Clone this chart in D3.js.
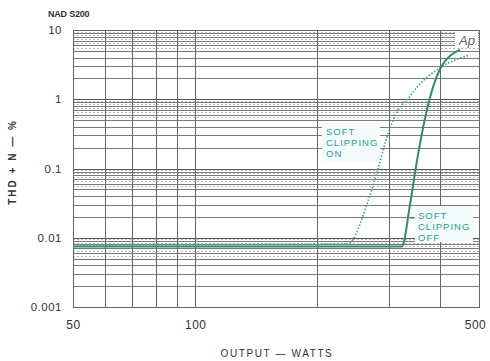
<!DOCTYPE html>
<html>
<head>
<meta charset="utf-8">
<script src="https://cdn.jsdelivr.net/npm/d3@7"></script>
<style>
  html, body { margin: 0; padding: 0; background: #fff; }
  svg { display: block; }
  text { font-family: "Liberation Sans", Arial, sans-serif; }
</style>
</head>
<body>
<svg id="chart" width="490" height="361"></svg>
<script>
// ---- data ----
const chartTitle = "NAD S200";
const xTickValues = [50, 100, 500];
const xTickLabels = ["50", "100", "500"];
const xGridValues = [50, 60, 70, 80, 90, 100, 200, 300, 400, 500];
const yTickValues = [0.001, 0.01, 0.1, 1, 10];
const yTickLabels = ["0.001", "0.01", "0.1", "1", "10"];
const yDecades = [0.001, 0.01, 0.1, 1];

// Soft clipping OFF (solid)
const offWatts = [50, 323, 338, 352, 372, 400, 449];
const offThd   = [0.0075, 0.0075, 0.0297, 0.133, 0.70, 2.65, 5.2];
// Soft clipping ON (dotted)
const onWatts = [50, 237, 267, 280, 299, 316, 332, 352, 400, 475];
const onThd   = [0.0079, 0.0081, 0.035, 0.086, 0.326, 0.70, 0.97, 1.5, 2.83, 4.35];

const xLabel = "OUTPUT — WATTS";
const yLabel = "THD + N — %";
const onLabel = ["SOFT", "CLIPPING", "ON"];
const offLabel = ["SOFT", "CLIPPING", "OFF"];

// ---- drawing ----
const svg = d3.select("#chart");
const L = 73, R = 479, T = 30, B = 307;
const x = d3.scaleLog().domain([50, 500]).range([L, R]);
const y = d3.scaleLog().domain([0.001, 10]).range([B, T]);

const grid = svg.append("g").attr("shape-rendering", "crispEdges");

const solidVals = [];
const dottedVals = [];
yDecades.forEach(d => {
  for (let k = 1; k <= 9; k++) solidVals.push(d * k);
  for (let k = 5; k <= 9; k++) dottedVals.push(d * (k + 0.5));
});
solidVals.push(10);

grid.selectAll("line.hd").data(dottedVals).join("line")
  .attr("x1", L).attr("x2", R)
  .attr("y1", d => Math.round(y(d)) + 0.5).attr("y2", d => Math.round(y(d)) + 0.5)
  .attr("stroke", "#bbb").attr("stroke-width", 1).attr("stroke-dasharray", "2,2");

grid.selectAll("line.hs").data(solidVals).join("line")
  .attr("x1", L).attr("x2", R)
  .attr("y1", d => Math.round(y(d)) + 0.5).attr("y2", d => Math.round(y(d)) + 0.5)
  .attr("stroke", d => yTickValues.includes(+d.toPrecision(3)) ? "#555" : "#7a7a7a")
  .attr("stroke-width", 1);

grid.selectAll("line.v").data(xGridValues).join("line")
  .attr("x1", d => Math.round(x(d)) + 0.5).attr("x2", d => Math.round(x(d)) + 0.5)
  .attr("y1", T).attr("y2", B)
  .attr("stroke", "#666").attr("stroke-width", 1);

grid.append("rect").attr("x", L + 0.5).attr("y", T + 0.5)
  .attr("width", R - L).attr("height", B - T)
  .attr("fill", "none").attr("stroke", "#666");

// Ap logo box
svg.append("rect").attr("x", 455).attr("y", 32).attr("width", 23).attr("height", 16).attr("fill", "#fff");
svg.append("text").attr("x", 467).attr("y", 45).attr("text-anchor", "middle")
  .attr("font-size", 13).attr("font-style", "italic").attr("fill", "#666").text("Ap");

// annotation backgrounds
svg.append("rect").attr("x", 322).attr("y", 123).attr("width", 58).attr("height", 38).attr("fill", "#f2fbf9");
svg.append("rect").attr("x", 415).attr("y", 206).attr("width", 58).attr("height", 36).attr("fill", "#f2fbf9");

// axes
const yAxis = d3.axisLeft(y).tickValues(yTickValues)
  .tickFormat((d, i) => yTickLabels[i]).tickSize(0).tickPadding(11);
const gy = svg.append("g").attr("transform", `translate(${L},0)`).call(yAxis);
gy.select(".domain").remove();
gy.selectAll("text").attr("font-size", 11.5).attr("fill", "#333")
  .attr("font-family", "'Liberation Sans', Arial, sans-serif").attr("letter-spacing", 0.5);

const xAxis = d3.axisBottom(x).tickValues(xTickValues)
  .tickFormat((d, i) => xTickLabels[i]).tickSize(0).tickPadding(13);
const gx = svg.append("g").attr("transform", `translate(0,${B})`).call(xAxis);
gx.select(".domain").remove();
gx.selectAll("text").attr("font-size", 12).attr("fill", "#333")
  .attr("font-family", "'Liberation Sans', Arial, sans-serif").attr("letter-spacing", 0.5);
gx.selectAll(".tick").filter(d => d === 500).select("text").attr("dx", -4);

// curves
const line = d3.line().x(d => x(d[0])).y(d => y(d[1])).curve(d3.curveMonotoneX);
const onData = onWatts.map((w, i) => [w, onThd[i]]);
const offData = offWatts.map((w, i) => [w, offThd[i]]);

svg.append("path").datum(onData).attr("d", line)
  .attr("fill", "none").attr("stroke", "#3aa898").attr("stroke-width", 1.7)
  .attr("stroke-dasharray", "1.5,1.8");
svg.append("path").datum(offData).attr("d", line)
  .attr("fill", "none").attr("stroke", "#2e8c74").attr("stroke-width", 2);

// leader for OFF label
svg.append("line").attr("x1", x(offWatts[2]) + 0.5).attr("x2", 414)
  .attr("y1", 218).attr("y2", 218).attr("stroke", "#2e8c74").attr("stroke-width", 1.2);

// annotation text
const onT = svg.append("text").attr("font-size", 9.5).attr("fill", "#2a9b9b").attr("letter-spacing", 1);
onLabel.forEach((s, i) => onT.append("tspan").attr("x", 326).attr("y", 135 + i * 11).text(s));
const offT = svg.append("text").attr("font-size", 9.5).attr("fill", "#2a9b9b").attr("letter-spacing", 1);
offLabel.forEach((s, i) => offT.append("tspan").attr("x", 418).attr("y", 219 + i * 11).text(s));

// titles
svg.append("text").attr("x", 48).attr("y", 17).attr("font-size", 9).attr("font-weight", "bold")
  .attr("fill", "#333").attr("letter-spacing", -0.2).text(chartTitle);
svg.append("text").attr("x", 277).attr("y", 357).attr("text-anchor", "middle")
  .attr("font-size", 10).attr("fill", "#333").attr("letter-spacing", 1.6).text(xLabel);
svg.append("text").attr("transform", "translate(16,162) rotate(-90)").attr("text-anchor", "middle")
  .attr("font-size", 10).attr("font-weight", "bold").attr("fill", "#333").attr("letter-spacing", 2).text(yLabel);
</script>
</body>
</html>
